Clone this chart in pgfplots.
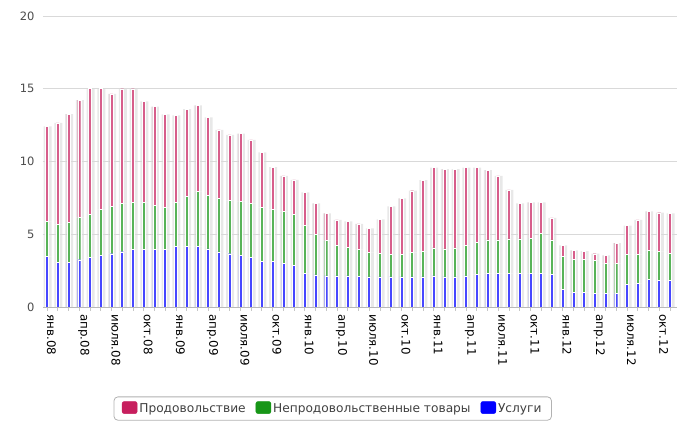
\documentclass[border=0pt]{standalone}
\usepackage{pgfplots}
\pgfplotsset{compat=1.18}
\usepackage{pgfplotstable}
\usepackage{fontspec}
\setmainfont{DejaVu Sans}
\definecolor{foodc}{HTML}{C71F5E}
\definecolor{nonc}{HTML}{179617}
\definecolor{servc}{HTML}{0000FF}

\pgfplotstableread{
x s n f
0 3.48 2.41 6.53
1 3.09 2.58 6.98
2 3.09 2.74 7.43
3 3.25 2.89 8.08
4 3.39 3.00 8.65
5 3.57 3.14 8.33
6 3.66 3.28 7.71
7 3.80 3.30 7.90
8 3.94 3.27 7.79
9 3.94 3.23 6.96
10 3.94 3.07 6.76
11 3.94 2.89 6.41
12 4.16 3.01 6.00
13 4.16 3.46 5.98
14 4.16 3.78 5.92
15 4.00 3.69 5.35
16 3.78 3.71 4.68
17 3.66 3.67 4.50
18 3.57 3.69 4.66
19 3.39 3.71 4.39
20 3.16 3.69 3.78
21 3.16 3.55 2.91
22 3.02 3.53 2.46
23 2.87 3.52 2.34
24 2.30 3.30 2.27
25 2.21 2.77 2.14
26 2.14 2.43 1.87
27 2.14 2.11 1.74
28 2.14 1.98 1.77
29 2.12 1.82 1.77
30 2.07 1.68 1.66
31 2.07 1.64 2.32
32 2.07 1.57 3.27
33 2.07 1.57 3.82
34 2.07 1.68 4.24
35 2.07 1.75 4.90
36 2.14 1.93 5.51
37 2.07 1.93 5.47
38 2.07 2.00 5.40
39 2.14 2.09 5.35
40 2.23 2.23 5.12
41 2.30 2.32 4.78
42 2.30 2.32 4.39
43 2.30 2.39 3.36
44 2.30 2.39 2.43
45 2.30 2.43 2.46
46 2.30 2.77 2.12
47 2.23 2.39 1.50
48 1.23 2.25 0.75
49 1.00 2.28 0.61
50 1.00 2.28 0.56
51 0.93 2.28 0.45
52 0.93 2.05 0.57
53 0.93 2.05 1.41
54 1.55 2.05 2.00
55 1.62 1.98 2.39
56 1.91 1.98 2.68
57 1.84 1.98 2.66
58 1.84 1.87 2.73
}\data

\begin{document}
\begin{tikzpicture}
\useasboundingbox (0pt,0pt) rectangle (689pt,444pt);
% shadow behind bars
\begin{axis}[
  at={(43pt,137pt)}, anchor=south west, scale only axis,
  width=634pt, height=291pt,
  xmin=-0.372, xmax=58.66, ymin=0, ymax=20,
  hide axis, ybar stacked, bar width=8pt, bar shift=0.6pt,
]
\addplot[fill=black!9, draw=none] table[x=x,y=s] {\data};
\addplot[fill=black!9, draw=none] table[x=x,y=n] {\data};
\addplot[fill=black!9, draw=none] table[x=x,y=f] {\data};
\end{axis}
\begin{axis}[
  at={(43pt,137pt)}, anchor=south west, scale only axis,
  width=634pt, height=291pt,
  xmin=-0.372, xmax=58.66, ymin=0, ymax=20,
  ybar stacked, bar width=3pt,
  axis lines=left, axis line style={-},
  x axis line style={draw=gray!55, line width=0.9pt},
  y axis line style={draw=none},
  ytick={0,5,10,15,20}, ytick style={draw=none},
  ymajorgrids, grid style={gray!30, line width=0.8pt},
  xtick={0,3,...,57},
  minor xtick={0,...,58},
  xtick style={draw=gray!45, line width=0.6pt},
  minor tick style={draw=gray!45, line width=0.6pt},
  tick align=outside, major tick length=4pt, minor tick length=4pt,
  xticklabels={янв.08,апр.08,июля.08,окт.08,янв.09,апр.09,июля.09,окт.09,янв.10,апр.10,июля.10,окт.10,янв.11,апр.11,июля.11,окт.11,янв.12,апр.12,июля.12,окт.12},
  xticklabel style={font=\fontsize{11.8}{13}\selectfont, text=black, xshift=4.5pt, rotate=-90, anchor=west},
  yticklabel style={font=\fontsize{11.5}{13}\selectfont, text=black!70, xshift=-1pt},
  /pgf/number format/assume math mode=true,
  reverse legend,
  legend style={at={(0.457,-0.349)}, anchor=center, legend columns=3,
    draw=gray!60, rounded corners=4pt, line width=0.8pt,
    font=\fontsize{12.2}{14}\selectfont, text=black!75,
    inner xsep=8pt, inner ysep=4.5pt,
    /tikz/every even column/.append style={column sep=8pt}},
  legend cell align=left,
]
\addplot[fill=servc!72!white, draw=white, line width=0.4pt,
  legend image code/.code={\fill[servc, rounded corners=2pt] (0pt,-5pt) rectangle (15pt,7pt);}]
  table[x=x,y=s] {\data};
\addlegendentry{Услуги}
\addplot[fill=nonc!72!white, draw=white, line width=0.4pt,
  legend image code/.code={\fill[nonc, rounded corners=2pt] (0pt,-5pt) rectangle (15pt,7pt);}]
  table[x=x,y=n] {\data};
\addlegendentry{Непродовольственные товары}
\addplot[fill=foodc!72!white, draw=white, line width=0.4pt,
  legend image code/.code={\fill[foodc, rounded corners=2pt] (0pt,-5pt) rectangle (15pt,7pt);}]
  table[x=x,y=f] {\data};
\addlegendentry{Продовольствие}
\end{axis}
\end{tikzpicture}
\end{document}
